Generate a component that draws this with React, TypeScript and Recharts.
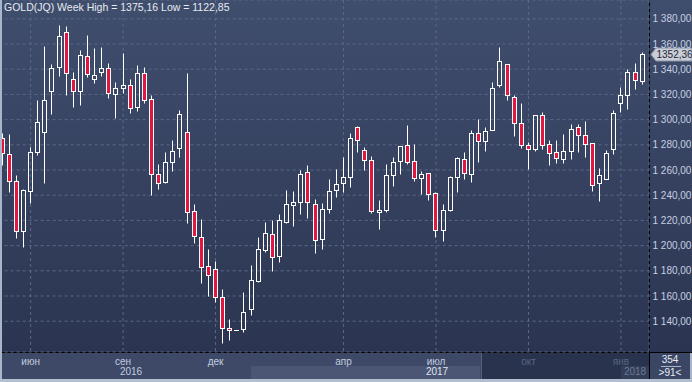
import { ComposedChart, Bar, XAxis, YAxis, CartesianGrid, ReferenceLine } from 'recharts';

// weekly candles, GOLD(JQ)
const weeks = [
  '09.05.16', '16.05.16', '23.05.16', '30.05.16', '06.06.16', '13.06.16', '20.06.16', '27.06.16', '04.07.16', '11.07.16',
  '18.07.16', '25.07.16', '01.08.16', '08.08.16', '15.08.16', '22.08.16', '29.08.16', '05.09.16', '12.09.16', '19.09.16',
  '26.09.16', '03.10.16', '10.10.16', '17.10.16', '24.10.16', '31.10.16', '07.11.16', '14.11.16', '21.11.16', '28.11.16',
  '05.12.16', '12.12.16', '19.12.16', '25.12.16', '26.12.16', '02.01.17', '09.01.17', '16.01.17', '23.01.17', '30.01.17',
  '06.02.17', '13.02.17', '20.02.17', '27.02.17', '06.03.17', '13.03.17', '20.03.17', '27.03.17', '03.04.17', '10.04.17',
  '17.04.17', '24.04.17', '01.05.17', '08.05.17', '15.05.17', '22.05.17', '29.05.17', '05.06.17', '12.06.17', '19.06.17',
  '26.06.17', '03.07.17', '10.07.17', '17.07.17', '24.07.17', '31.07.17', '07.08.17', '14.08.17', '21.08.17', '28.08.17',
  '04.09.17', '11.09.17', '18.09.17', '25.09.17', '02.10.17', '09.10.17', '16.10.17', '23.10.17', '30.10.17', '06.11.17',
  '13.11.17', '20.11.17', '27.11.17', '04.12.17', '11.12.17', '18.12.17', '25.12.17', '01.01.18', '08.01.18', '15.01.18',
  '22.01.18',
];

const opens = [
  1285.2, 1272.5, 1251.0, 1211.8, 1243.6, 1274.5, 1290.0, 1322.5, 1341.5, 1369.3,
  1332.0, 1322.5, 1350.2, 1332.0, 1337.5, 1340.7, 1320.0, 1324.8, 1327.2, 1310.2,
  1336.7, 1316.1, 1256.6, 1250.8, 1266.1, 1277.2, 1290.0, 1227.2, 1206.6, 1184.1,
  1181.2, 1158.9, 1134.4, 1133.2, 1133.6, 1149.9, 1171.9, 1196.8, 1209.0, 1192.0,
  1219.0, 1232.0, 1234.4, 1258.2, 1232.8, 1205.0, 1228.8, 1243.9, 1249.5, 1254.2,
  1293.9, 1275.6, 1267.7, 1226.4, 1228.0, 1255.8, 1266.9, 1279.6, 1266.9, 1253.4,
  1257.4, 1241.5, 1212.1, 1228.5, 1254.7, 1268.7, 1257.1, 1289.4, 1283.3, 1291.5,
  1327.2, 1343.9, 1317.7, 1297.1, 1279.6, 1276.4, 1303.4, 1280.4, 1274.0, 1268.5,
  1274.8, 1293.9, 1287.5, 1281.2, 1249.4, 1252.6, 1276.4, 1312.9, 1319.3, 1337.5,
  1330.9,
];

const highs = [
  1289.5, 1288.6, 1256.3, 1245.0, 1278.5, 1315.6, 1358.4, 1344.1, 1375.16, 1374.5,
  1338.0, 1355.2, 1367.1, 1356.8, 1357.9, 1345.2, 1330.0, 1352.9, 1332.0, 1343.3,
  1341.7, 1319.3, 1264.8, 1274.3, 1283.8, 1307.6, 1336.7, 1233.0, 1220.9, 1197.0,
  1187.5, 1165.3, 1141.7, 1133.4, 1163.2, 1184.6, 1206.8, 1218.7, 1220.3, 1224.8,
  1244.1, 1243.3, 1260.0, 1263.7, 1236.8, 1233.6, 1252.6, 1260.6, 1270.1, 1289.1,
  1294.9, 1278.0, 1270.9, 1236.0, 1264.5, 1270.1, 1279.0, 1295.7, 1280.4, 1259.0,
  1257.4, 1242.3, 1232.8, 1255.2, 1270.3, 1274.3, 1291.7, 1300.5, 1294.1, 1329.6,
  1357.6, 1343.9, 1319.3, 1312.9, 1282.0, 1303.4, 1306.3, 1283.6, 1283.6, 1288.3,
  1296.3, 1296.3, 1298.9, 1281.2, 1261.3, 1275.6, 1307.4, 1325.6, 1339.9, 1344.7,
  1353.4,
];

const lows = [
  1264.0, 1242.8, 1206.3, 1199.1, 1234.0, 1271.9, 1249.9, 1304.4, 1334.6, 1319.5,
  1310.2, 1311.6, 1334.0, 1329.3, 1334.8, 1317.4, 1301.5, 1321.3, 1305.5, 1307.1,
  1312.9, 1240.4, 1245.2, 1249.9, 1259.4, 1270.6, 1218.2, 1202.3, 1170.6, 1160.0,
  1155.5, 1122.85, 1125.0, 1133.0, 1131.2, 1145.2, 1171.1, 1195.2, 1180.1, 1187.2,
  1218.2, 1215.8, 1225.3, 1222.0, 1194.4, 1197.0, 1226.1, 1238.8, 1242.8, 1246.7,
  1274.0, 1259.8, 1225.6, 1213.4, 1226.4, 1247.5, 1256.5, 1264.5, 1251.0, 1240.7,
  1235.9, 1206.6, 1203.9, 1227.7, 1242.8, 1253.1, 1250.7, 1266.6, 1275.3, 1291.5,
  1325.6, 1315.3, 1287.2, 1277.2, 1260.6, 1274.8, 1276.4, 1263.7, 1265.3, 1265.3,
  1268.7, 1274.0, 1270.1, 1243.6, 1235.6, 1252.6, 1272.9, 1305.8, 1308.2, 1324.0,
  1328.0,
];

const closes = [
  1273.2, 1251.5, 1211.8, 1244.1, 1274.0, 1297.9, 1315.3, 1340.7, 1366.1, 1336.7,
  1322.5, 1351.0, 1336.0, 1335.2, 1340.7, 1320.9, 1324.8, 1327.2, 1309.5, 1336.7,
  1315.3, 1256.6, 1250.0, 1266.1, 1274.8, 1304.2, 1226.9, 1207.4, 1182.8, 1176.9,
  1158.9, 1134.4, 1132.8, 1133.2, 1147.1, 1172.5, 1197.0, 1209.8, 1190.7, 1220.1,
  1232.8, 1234.4, 1256.6, 1234.4, 1204.2, 1228.8, 1243.1, 1248.7, 1254.2, 1285.2,
  1283.6, 1267.7, 1227.2, 1228.0, 1255.8, 1266.1, 1278.8, 1266.1, 1253.4, 1256.6,
  1240.7, 1212.1, 1228.0, 1254.4, 1269.5, 1257.9, 1289.4, 1283.3, 1291.0, 1324.8,
  1346.3, 1319.3, 1297.1, 1279.6, 1276.4, 1303.4, 1279.6, 1273.3, 1269.3, 1274.8,
  1292.3, 1287.5, 1280.4, 1247.9, 1255.8, 1273.3, 1305.0, 1319.3, 1337.5, 1331.2,
  1352.36,
];

const priceTicks = [1140, 1160, 1180, 1200, 1220, 1240, 1260, 1280, 1300, 1320, 1340, 1360, 1380];
const monthTicks = ['06.06.16', '05.09.16', '05.12.16', '03.04.17', '03.07.17', '02.10.17', '01.01.18'];
const monthNames = ['июн', 'сен', 'дек', 'апр', 'июл', 'окт', 'янв'];
const dimMonths = ['окт', 'янв'];

const data = weeks.map((w, i) => ({
  week: w,
  open: opens[i],
  high: highs[i],
  low: lows[i],
  close: closes[i],
  range: [lows[i], highs[i]],
}));

const RED = '#e3163f';
const BG = 'linear-gradient(#404e6e, #2b3551)';
const FONT = '"Liberation Sans", Arial, sans-serif';

const fmtPrice = (v: number) => v.toFixed(2).replace('.', ',').replace(/^(\d)(\d{3})/, '$1 $2');

function Candle(props: any) {
  const { x, y, width, height } = props;
  const p = props.payload || props;
  const { open, close, high, low } = p;
  const c = Math.floor(x + width / 2) + 0.5;
  const span = high - low || 1;
  const py = (v: number) => y + ((high - v) / span) * height;
  const top = Math.round(py(Math.max(open, close))) + 0.5;
  const bot = Math.round(py(Math.min(open, close))) + 0.5;
  const yH = Math.round(py(high)) + 0.5;
  const yL = Math.round(py(low)) + 0.5;
  const up = close >= open;
  return (
    <g>
      {yH < top && <line x1={c} x2={c} y1={yH} y2={top} stroke="#fff" strokeWidth={1} />}
      {yL > bot && <line x1={c} x2={c} y1={bot} y2={yL} stroke="#fff" strokeWidth={1} />}
      {bot - top < 1 ? (
        <line x1={c - 2.5} x2={c + 2.5} y1={top} y2={top} stroke="#fff" strokeWidth={1} />
      ) : (
        <rect x={c - 2} y={top} width={4} height={bot - top} fill={up ? 'none' : RED} stroke="#fff" strokeWidth={1} />
      )}
    </g>
  );
}

function MonthTick(props: any) {
  const { x, index } = props;
  const name = monthNames[index];
  const dim = dimMonths.includes(name);
  return (
    <text x={x} y={365} textAnchor="middle" fontSize={10} fontFamily={FONT} fill={dim ? '#59657f' : '#c3cde0'}>
      {name}
    </text>
  );
}

function PriceTick(props: any) {
  const { y, payload } = props;
  return (
    <text x={672.5} y={y + 3.5} textAnchor="start" fontSize={10} fontFamily={FONT} fill="#c6d0e2">
      {fmtPrice(payload.value)}
    </text>
  );
}

function PriceTag(props: any) {
  const vb = props.viewBox || {};
  const x = vb.x + vb.width + 2;
  const y = Math.round(vb.y) + 0.5;
  const pts = `${x},${y} ${x + 5},${y - 6.5} ${x + 41},${y - 6.5} ${x + 41},${y + 6.5} ${x + 5},${y + 6.5}`;
  return (
    <g>
      <polygon points={pts} fill="#c9cdd6" stroke="#8a93a6" strokeWidth={1} />
      <text x={x + 5.5} y={y + 3.5} fontSize={10} fontFamily={FONT} fill="#1f2838">
        {closes[closes.length - 1].toFixed(2).replace('.', ',')}
      </text>
    </g>
  );
}

const abs = (s: any) => ({ position: 'absolute' as const, ...s });

export default function App() {
  return (
    <div style={{ position: 'relative', width: 692, height: 382, overflow: 'hidden', fontFamily: FONT }}>
      <style>{'body{margin:0}'}</style>
      {/* backgrounds */}
      <div style={abs({ left: 2, top: 0, width: 647, height: 352, background: BG })} />
      <div style={abs({ left: 650, top: 0, width: 42, height: 352, background: BG })} />
      <div style={abs({ left: 2, top: 353, width: 647, height: 26, background: '#3d4966' })} />
      <div style={abs({ left: 251, top: 366, width: 229, height: 13, background: '#4a5673' })} />
      <div style={abs({ left: 481, top: 353, width: 168, height: 26, background: '#29334e', borderLeft: '1px solid #56617c', boxSizing: 'border-box' })} />
      <div style={abs({ left: 621, top: 366, width: 28, height: 13, background: '#333e59' })} />
      <div style={abs({ left: 650, top: 353, width: 42, height: 26, background: '#3a4663' })} />
      <div style={abs({ left: 649, top: 0, width: 1, height: 379, background: '#000' })} />
      <div style={abs({ left: 2, top: 352, width: 690, height: 1, background: '#000' })} />

      <div style={abs({ left: -20, top: 0 })}>
        <ComposedChart width={712} height={382} data={data} margin={{ top: 0, right: 0, bottom: 0, left: 18.63 }}>
          <CartesianGrid stroke="#5b6886" strokeDasharray="3 3" />
          <XAxis
            dataKey="week"
            ticks={monthTicks}
            interval={0}
            height={30}
            padding={{ left: 0, right: 3.2 }}
            axisLine={false}
            tickLine={false}
            tick={<MonthTick />}
          />
          <YAxis
            orientation="right"
            width={43}
            domain={[1115.56, 1394.92]}
            allowDataOverflow
            ticks={priceTicks}
            axisLine={false}
            tickLine={false}
            tick={<PriceTick />}
          />
          <Bar dataKey="range" barSize={5} shape={<Candle />} isAnimationActive={false} />
          <ReferenceLine y={closes[closes.length - 1]} stroke="none" label={<PriceTag />} />
        </ComposedChart>
      </div>

      {/* title and labels */}
      <div style={abs({ left: 4, top: 1, fontSize: 10.5, lineHeight: '13px', color: '#e6eaf2', whiteSpace: 'nowrap' })}>
        GOLD(JQ) Week High = 1375,16 Low = 1122,85
      </div>
      <div style={abs({ left: 111, top: 366, width: 40, textAlign: 'center', fontSize: 10, lineHeight: '12px', color: '#c3cde0' })}>2016</div>
      <div style={abs({ left: 417, top: 366, width: 40, textAlign: 'center', fontSize: 10, lineHeight: '12px', color: '#e0e6f0' })}>2017</div>
      <div style={abs({ left: 615, top: 366, width: 40, textAlign: 'center', fontSize: 10, lineHeight: '12px', color: '#6d7893' })}>2018</div>
      <div style={abs({ left: 650, top: 354, width: 40, textAlign: 'center', fontSize: 10, lineHeight: '12px', color: '#e8edf5' })}>354</div>
      <div style={abs({ left: 661, top: 366, width: 20, height: 1, background: '#aab4c6' })} />
      <div style={abs({ left: 650, top: 367, width: 40, textAlign: 'center', fontSize: 10, lineHeight: '12px', color: '#e8edf5' })}>&gt;91&lt;</div>

      {/* frame */}
      <div style={abs({ left: 0, top: 0, width: 2, height: 382, background: '#a9b5c8' })} />
      <div style={abs({ left: 690, top: 353, width: 2, height: 29, background: '#a9b5c8' })} />
      <div style={abs({ left: 0, top: 379, width: 692, height: 3, background: '#b3bfd0' })} />
    </div>
  );
}
